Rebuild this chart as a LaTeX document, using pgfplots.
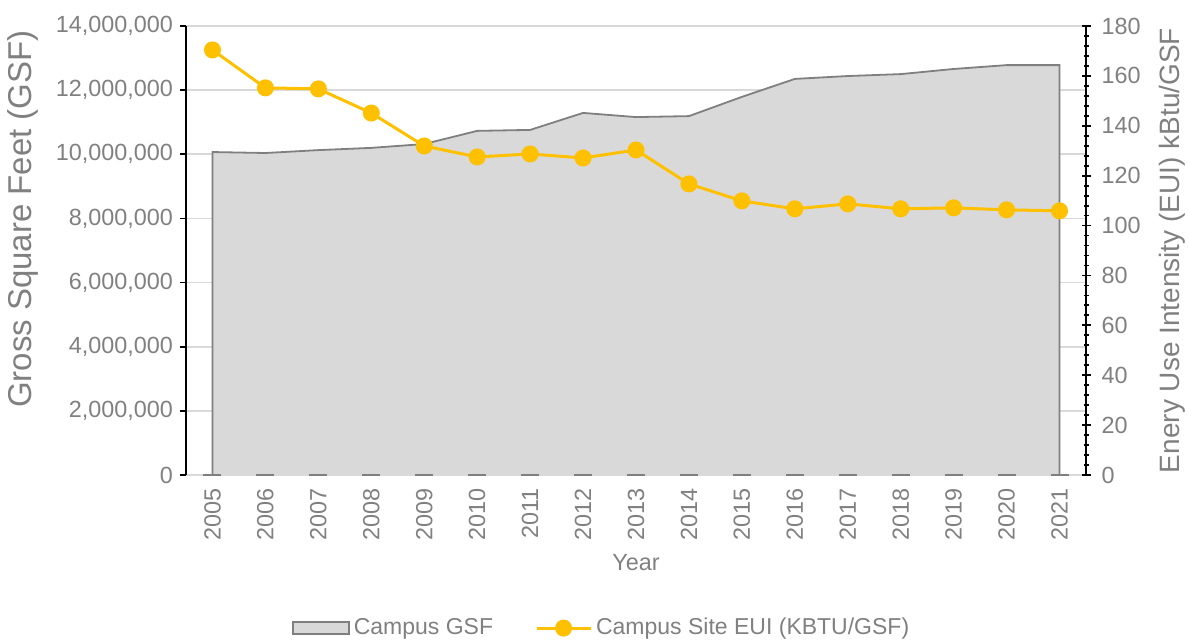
\documentclass[border=0pt]{standalone}
\usepackage{fontspec}
\setmainfont{Liberation Sans}
\usepackage{pgfplots}
\usepackage{pgfplotstable}
\pgfplotsset{compat=1.18}
\definecolor{txtgray}{HTML}{808080}
\definecolor{gridgray}{HTML}{D9D9D9}
\definecolor{areaedge}{HTML}{7F7F7F}
\definecolor{eui}{HTML}{FFC000}

\pgfplotsset{
  euilegend/.style={legend image code/.code={
    \draw[##1, mark repeat=2, mark phase=2] plot coordinates {(0pt,0pt) (13.5pt,0pt) (27pt,0pt)};}},
  gsflegend/.style={legend image code/.code={
    \draw[fill=gridgray, draw=areaedge, line width=0.8pt] (0pt,-3pt) rectangle (28pt,3pt);}},
}

% year index, campus GSF, site EUI
\pgfplotstableread{
idx gsf      eui
0   10070000 170.4
1   10040000 155.2
2   10130000 154.8
3   10200000 145.1
4   10320000 131.9
5   10730000 127.5
6   10760000 128.7
7   11290000 127.1
8   11160000 130.3
9   11190000 116.7
10  11790000 109.9
11  12350000 106.7
12  12440000 108.7
13  12500000 106.7
14  12660000 107.1
15  12780000 106.3
16  12780000 105.9
}\datatable

\begin{document}
\begin{tikzpicture}
\pgfplotsset{
  base/.style={
    scale only axis, width=450pt, height=224.5pt,
    at={(0,0)}, anchor=south west,
    xmin=-0.5, xmax=16.5,
    tick label style={font=\fontsize{11.7}{14}\selectfont, text=txtgray},
    label style={text=txtgray},
    /pgf/number format/assume math mode=true,
  }
}
\path[use as bounding box] (-93pt,-83.5pt) rectangle (501pt,237.5pt);

\begin{axis}[base,
  axis y line*=left, axis x line*=bottom,
  y axis line style={black, line width=0.9pt, -},
  x axis line style={gridgray, line width=0.8pt, -},
  ymin=0, ymax=14000000,
  ytick={0,2000000,4000000,6000000,8000000,10000000,12000000,14000000},
  scaled y ticks=false,
  y tick label style={/pgf/number format/fixed, /pgf/number format/1000 sep={,}},
  tick align=outside, major tick length=3pt,
  y tick style={black, line width=0.9pt},
  x tick style={draw=none},
  xtick={0,...,16},
  xticklabels={2005,2006,2007,2008,2009,2010,2011,2012,2013,2014,2015,2016,2017,2018,2019,2020,2021},
  x tick label style={rotate=90, anchor=east, font=\fontsize{11.7}{14}\selectfont},
  ymajorgrids, grid style={gridgray, line width=0.8pt},
  xlabel={Year},
  xlabel style={at={(axis description cs:0.5,-0.194)}, anchor=center, font=\fontsize{11.7}{14}\selectfont},
  ylabel={Gross Square Feet (GSF)},
  ylabel style={at={(axis description cs:-0.181,0.57)}, anchor=center, font=\fontsize{16.5}{19}\selectfont},
]
\addplot[fill=gridgray, draw=none] table[x=idx, y=gsf]{\datatable} \closedcycle;
\addplot[areaedge, line width=0.9pt] coordinates {
  (0,0) (0,10070000) (1,10040000) (2,10130000) (3,10200000) (4,10320000)
  (5,10730000) (6,10760000) (7,11290000) (8,11160000) (9,11190000)
  (10,11790000) (11,12350000) (12,12440000) (13,12500000) (14,12660000)
  (15,12780000) (16,12780000) (16,0)
};
\addplot[only marks, mark=-, mark size=4.5pt, mark options={draw=areaedge, line width=0.7pt}]
  table[x=idx, y expr=0]{\datatable};
\end{axis}

\begin{axis}[base,
  axis y line*=right, axis x line=none,
  ymin=0, ymax=180, ytick={0,20,...,180}, minor y tick num=4,
  y axis line style={black, line width=0.9pt, -},
  tick align=center, major tick length=4.5pt, minor tick length=2.5pt,
  every tick/.style={black, line width=0.9pt},
  y tick label style={xshift=2pt},
  ylabel={Enery Use Intensity (EUI) kBtu/GSF},
  ylabel style={at={(axis description cs:1.0956,0.5)}, anchor=center, font=\fontsize{14}{17}\selectfont},
  legend style={at={(0.463,-0.341)}, anchor=center, draw=none, fill=none,
    legend columns=2, font=\fontsize{11.5}{14}\selectfont, text=txtgray,
    /tikz/every even column/.append style={column sep=19pt},
    legend cell align=left},
]
\addlegendimage{gsflegend}
\addlegendentry{Campus GSF}
\addplot[eui, line width=1.5pt, mark=*, mark size=3.5pt, mark options={fill=eui, draw=eui}, euilegend]
  table[x=idx, y=eui]{\datatable};
\addlegendentry{Campus Site EUI (KBTU/GSF)}
\end{axis}
\end{tikzpicture}
\end{document}
